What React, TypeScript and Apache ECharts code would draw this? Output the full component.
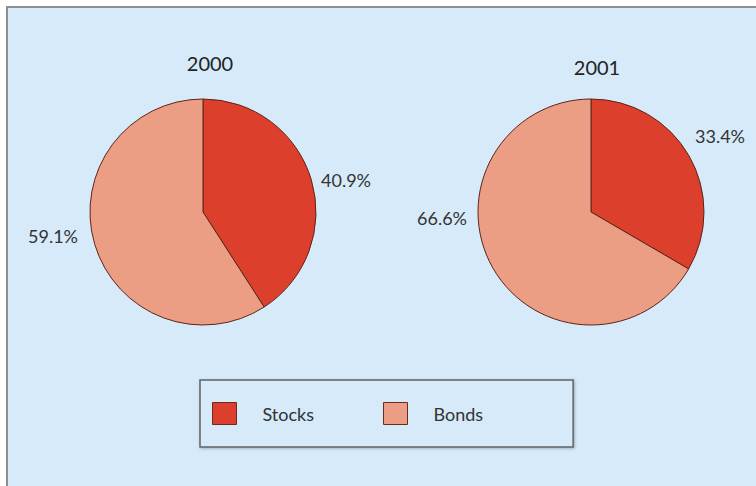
import React, { useEffect, useRef } from "react";
import * as echarts from "echarts";

const categories = ["Stocks", "Bonds"];
const years = ["2000", "2001"];
const values2000 = [40.9, 59.1];
const values2001 = [33.4, 66.6];
const colors = ["#dc402c", "#ec9e84"];

// label anchor positions (px) per pie, per slice
const labelPos = [
  [[346, 180], [53, 236]],
  [[720, 136], [442, 218]],
];

export default function App() {
  const ref = useRef<HTMLDivElement>(null);
  useEffect(() => {
    const chart = echarts.init(ref.current!, null, { renderer: "svg" });
    const font = "Lato";
    const mkSeries = (vals: number[], i: number, cx: number) => ({
      type: "pie",
      name: years[i],
      center: [cx, 212],
      radius: 113,
      startAngle: 90,
      clockwise: true,
      avoidLabelOverlap: false,
      data: categories.map((c, k) => ({ name: c, value: vals[k] })),
      itemStyle: { borderColor: "#5e2418", borderWidth: 1 },
      label: {
        show: true,
        position: "outside",
        overflow: "none",
        edgeDistance: 0,
        formatter: (p: any) => p.value.toFixed(1) + "%",
        color: "#333",
        fontFamily: font,
        fontSize: 18,
      },
      labelLine: { show: false },
      labelLayout: (p: any) => {
        const pos = labelPos[i][p.dataIndex];
        return { x: pos[0], y: pos[1], align: "center", verticalAlign: "middle", hideOverlap: false, moveOverlap: null };
      },
      emphasis: { disabled: true },
    });
    chart.setOption({
      animation: false,
      color: colors,
      graphic: [
        {
          type: "rect",
          shape: { x: 7, y: 7, width: 760, height: 490 },
          style: { fill: "#d6eaf9", stroke: "#8b9095", lineWidth: 2 },
          z: -10,
        },
      ],
      title: [
        { text: years[0], left: 205, top: 48, textAlign: "center", textStyle: { fontFamily: font, fontSize: 20, fontWeight: "normal", color: "#222" } },
        { text: years[1], left: 592, top: 52, textAlign: "center", textStyle: { fontFamily: font, fontSize: 20, fontWeight: "normal", color: "#222" } },
      ],
      legend: {
        data: categories,
        left: 200,
        top: 380,
        orient: "horizontal",
        itemWidth: 24,
        itemHeight: 22,
        itemGap: 69,
        padding: [22, 90, 22, 12],
        borderColor: "#5f6468",
        borderWidth: 1.5,
        shadowColor: "rgba(0,0,0,0.25)",
        shadowBlur: 3,
        shadowOffsetX: 1,
        shadowOffsetY: 1,
        backgroundColor: "#d6eaf9",
        icon: "rect",
        itemStyle: { borderColor: "#6b2a1e", borderWidth: 1 },
        textStyle: { fontFamily: font, fontSize: 18, color: "#333", padding: [0, 0, 0, 21] },
        selectedMode: false,
      },
      series: [mkSeries(values2000, 0, 203), mkSeries(values2001, 1, 591)],
    });
    return () => chart.dispose();
  }, []);
  return (
    <div
      ref={ref}
      style={{ position: "fixed", left: 0, top: 0, width: 756, height: 486, background: "#fff" }}
    />
  );
}
